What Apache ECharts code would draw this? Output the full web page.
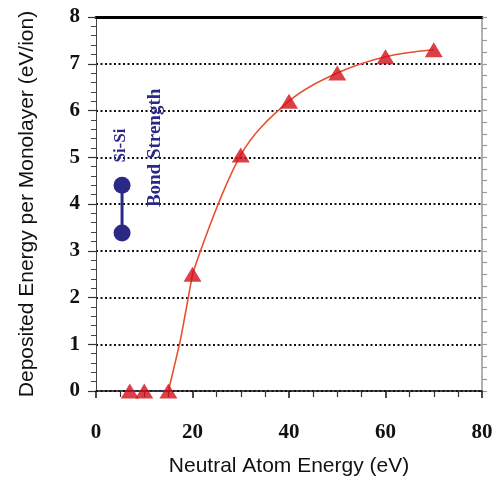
<!DOCTYPE html>
<html><head><meta charset="utf-8">
<script src="https://cdn.jsdelivr.net/npm/echarts@6/dist/echarts.min.js"></script>
<style>html,body{margin:0;padding:0;background:#fff}#c{width:497px;height:482px}</style>
</head><body><div id="c"></div>
<script>
// Data
const energies = [7, 10, 15, 20, 30, 40, 50, 60, 70];
const deposited = [0, 0, 0, 2.5, 5.05, 6.2, 6.8, 7.15, 7.3];
const riseX = [15, 17.5, 19.3, 20];
const riseY = [0, 1.1, 2.1, 2.5];
const fitX = [20, 30, 40, 50, 60, 70];
const fitY = [2.5, 5.05, 6.2, 6.8, 7.15, 7.3];
const baseX = [7, 10, 15];
const baseY = [0, -0.03, 0];
const bondX = [5.4, 5.4];
const bondY = [4.4, 3.38];
const xTicks = [0, 20, 40, 60, 80];
const yTicks = [0, 1, 2, 3, 4, 5, 6, 7, 8];
const xName = 'Neutral Atom Energy (eV)';
const yName = 'Deposited Energy per Monolayer (eV/ion)';
const noteA = 'Si-Si';
const noteB = 'Bond Strength';

const zip = (a, b) => a.map((v, i) => [v, b[i]]);
const chart = echarts.init(document.getElementById('c'));
const serif = 'Liberation Serif';
const sans = 'Liberation Sans';
const navy = '#2a2a86';
const curve = '#e8502e';

chart.setOption({
  animation: false,
  grid: {left: 96, right: 15, top: 17, bottom: 91},
  xAxis: [{
    type: 'value', min: xTicks[0], max: xTicks[xTicks.length - 1], interval: 20,
    name: xName, nameLocation: 'middle', nameGap: 65,
    nameTextStyle: {fontFamily: sans, fontSize: 21, color: '#111'},
    axisLine: {onZero: false, lineStyle: {color: '#111', width: 1.5}},
    axisTick: {length: 7, lineStyle: {color: '#111', width: 1.5}},
    minorTick: {show: true, splitNumber: 4, length: 6, lineStyle: {color: '#333', width: 1.2}},
    axisLabel: {fontFamily: serif, fontWeight: 'bold', fontSize: 21, color: '#111', margin: 31},
    splitLine: {show: false}
  }, {
    type: 'value', position: 'top', min: 0, max: 80,
    axisLine: {show: true, onZero: false, lineStyle: {color: '#000', width: 3}},
    axisTick: {show: false}, axisLabel: {show: false}, splitLine: {show: false}
  }],
  yAxis: [{
    type: 'value', min: yTicks[0], max: yTicks[yTicks.length - 1], interval: 1,
    name: yName, nameLocation: 'middle', nameGap: 58,
    nameTextStyle: {fontFamily: sans, fontSize: 21, color: '#111'},
    axisLine: {show: true, onZero: false, lineStyle: {color: '#444', width: 1}},
    axisTick: {length: 8, lineStyle: {color: '#333', width: 1.2}},
    minorTick: {show: true, splitNumber: 5, length: 5, lineStyle: {color: '#444', width: 1}},
    axisLabel: {fontFamily: serif, fontWeight: 'bold', fontSize: 21, color: '#111', margin: 16},
    splitLine: {show: true, lineStyle: {color: '#111', width: 2, type: [2, 2.5]}}
  }, {
    type: 'value', position: 'right', min: 0, max: 8, interval: 0.25,
    axisLine: {show: true, onZero: false, lineStyle: {color: '#999', width: 1.5}},
    axisTick: {show: true, length: 5, lineStyle: {color: '#999', width: 1.2}},
    axisLabel: {show: false}, splitLine: {show: false}
  }],
  series: [
    {type: 'line', data: zip(baseX, baseY), symbol: 'none', z: 3,
     lineStyle: {color: navy, width: 2}},
    {type: 'line', data: zip(riseX, riseY), symbol: 'none', smooth: 0.2, z: 3,
     lineStyle: {color: curve, width: 1.6}},
    {type: 'line', data: zip(fitX, fitY), symbol: 'none', smooth: 0.35, z: 3,
     lineStyle: {color: curve, width: 1.6}},
    {type: 'scatter', data: zip(energies, deposited), symbol: 'triangle', symbolSize: [18, 15], z: 5,
     itemStyle: {color: '#d20f1a'}},
    {type: 'line', data: zip(bondX, bondY), symbol: 'circle', symbolSize: 17, z: 4,
     lineStyle: {color: navy, width: 3}, itemStyle: {color: navy}}
  ]
});

const pA = chart.convertToPixel({gridIndex: 0}, [5.2, 5.25]);
const pB = chart.convertToPixel({gridIndex: 0}, [12.3, 5.2]);
chart.setOption({
  graphic: [
    {type: 'text', x: pA[0], y: pA[1], rotation: Math.PI / 2,
     style: {text: noteA, font: 'bold 17px "Liberation Serif"', fill: navy, align: 'center', verticalAlign: 'middle'}},
    {type: 'text', x: pB[0], y: pB[1], rotation: Math.PI / 2,
     style: {text: noteB, font: 'bold 19px "Liberation Serif"', fill: navy, align: 'center', verticalAlign: 'middle'}}
  ]
});
</script></body></html>
